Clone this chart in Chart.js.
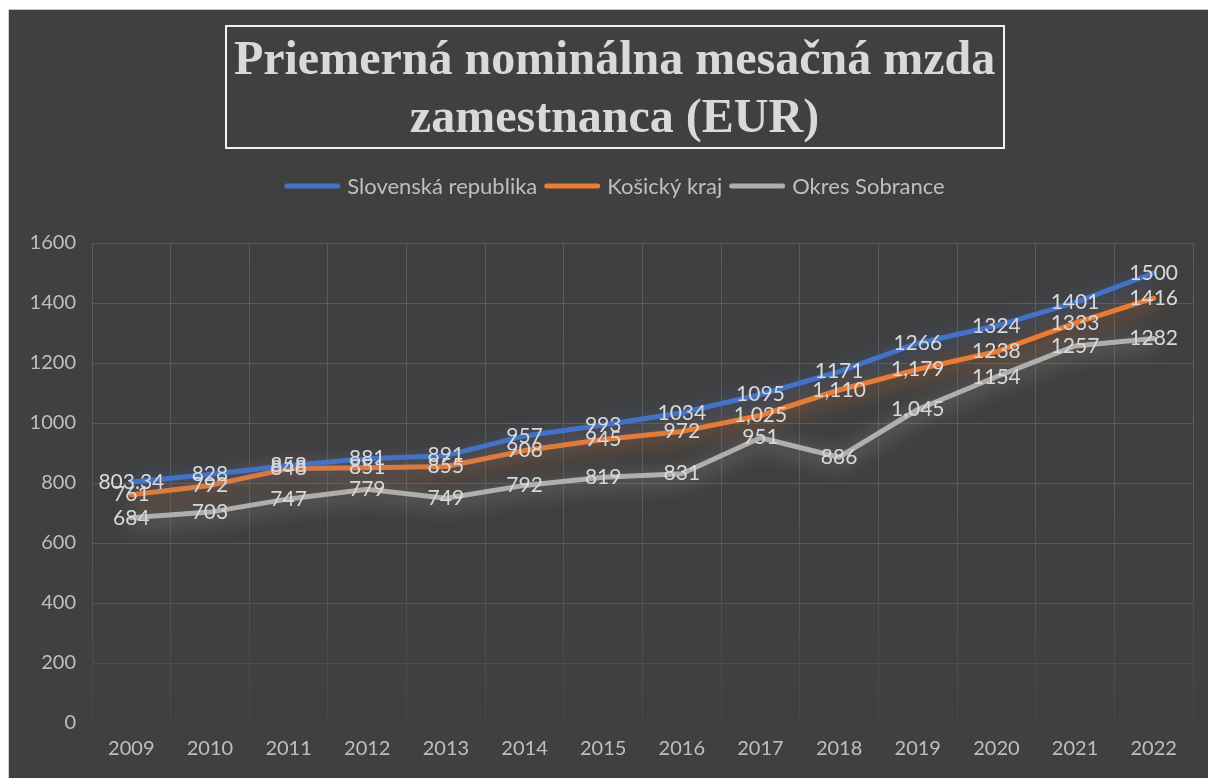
<!DOCTYPE html>
<html lang="sk">
<head>
    <meta charset="UTF-8">
    <title>Priemerná nominálna mesačná mzda zamestnanca (EUR)</title>
    <script src="https://cdn.jsdelivr.net/npm/chart.js"></script>
    <style>
        body { margin: 0; background: #ffffff; }
        #wrap {
            position: absolute;
            left: 8px; top: 9px;
            width: 1199px; height: 768px;
            background: #404040;
            border-top: 1px solid #c4c4c4;
            border-left: 1px solid #d0d0d0;
        }
        canvas { display: block; }
    </style>
</head>
<body>
    <div id="wrap"><canvas id="mzdaChart" width="1199" height="768"></canvas></div>

    <script>
        // data
        const years = ['2009', '2010', '2011', '2012', '2013', '2014', '2015', '2016', '2017', '2018', '2019', '2020', '2021', '2022'];
        const slovensko = [803.34, 828, 858, 881, 891, 957, 993, 1034, 1095, 1171, 1266, 1324, 1401, 1500];
        const kosice = [761, 792, 848, 851, 855, 908, 945, 972, 1025, 1110, 1179, 1238, 1333, 1416];
        const sobrance = [684, 703, 747, 779, 749, 792, 819, 831, 951, 886, 1045, 1154, 1257, 1282];
        // indexes whose data label is shown with a thousands separator
        const slovenskoComma = [];
        const kosiceComma = [8, 9, 10];
        const sobranceComma = [10];
        const yTicks = [0, 200, 400, 600, 800, 1000, 1200, 1400, 1600];
        const titleLines = ['Priemerná nominálna mesačná mzda', 'zamestnanca (EUR)'];

        const textGray = '#d9d9d9';
        const tickGray = '#bfbfbf';
        const font = 'Lato, "Open Sans", sans-serif';

        function rgba(hex, a) {
            let n = parseInt(hex.slice(1), 16);
            return `rgba(${n >> 16}, ${(n >> 8) & 255}, ${n & 255}, ${a})`;
        }

        // soft glow under each line, like the Excel effect
        const glowPlugin = {
            id: 'glow',
            beforeDatasetDraw(chart, args) {
                let ds = chart.data.datasets[args.index];
                chart.ctx.save();
                chart.ctx.shadowColor = rgba(ds.borderColor, 0.7);
                chart.ctx.shadowBlur = 20;
                chart.ctx.shadowOffsetY = 4;
            },
            afterDatasetDraw(chart) {
                chart.ctx.restore();
            }
        };

        // value labels centered on the points
        const labelPlugin = {
            id: 'valueLabels',
            afterDatasetsDraw(chart) {
                let ctx = chart.ctx;
                ctx.save();
                ctx.font = '21px ' + font;
                ctx.fillStyle = textGray;
                ctx.textAlign = 'center';
                ctx.textBaseline = 'middle';
                chart.data.datasets.forEach((ds, di) => {
                    let meta = chart.getDatasetMeta(di);
                    meta.data.forEach((pt, i) => {
                        let v = ds.data[i];
                        let txt = ds.commaIdx.includes(i) ? v.toLocaleString('en-US') : String(v);
                        ctx.fillText(txt, pt.x, pt.y);
                    });
                });
                ctx.restore();
            }
        };

        // boxed title and line-style legend
        const headerPlugin = {
            id: 'header',
            afterDraw(chart) {
                let ctx = chart.ctx;
                let cx = 605.5;
                ctx.save();
                ctx.strokeStyle = '#f2f2f2';
                ctx.lineWidth = 2;
                ctx.strokeRect(217, 16, 778, 122);
                ctx.fillStyle = textGray;
                ctx.textAlign = 'center';
                ctx.textBaseline = 'alphabetic';
                ctx.font = 'bold 48px "Liberation Serif", "DejaVu Serif", serif';
                ctx.fillText(titleLines[0], cx, 64);
                ctx.fillText(titleLines[1], cx, 122);

                // legend
                ctx.font = '22px ' + font;
                ctx.textAlign = 'left';
                ctx.textBaseline = 'middle';
                let lineW = 56, gap = 7;
                let items = chart.data.datasets.map(ds => ({ label: ds.label, color: ds.borderColor, w: ctx.measureText(ds.label).width }));
                let total = items.reduce((s, it) => s + lineW + gap + it.w, 0) + gap * (items.length - 1);
                let x = cx - total / 2, y = 176;
                items.forEach(it => {
                    ctx.fillStyle = it.color;
                    ctx.beginPath();
                    ctx.roundRect(x, y - 2.5, lineW, 5, 2.5);
                    ctx.fill();
                    x += lineW + gap;
                    ctx.fillStyle = tickGray;
                    ctx.fillText(it.label, x, y + 1);
                    x += it.w + gap;
                });
                ctx.restore();
            }
        };

        function gridGradient(context) {
            let chart = context.chart;
            let area = chart.chartArea;
            if (!area) return '#595959';
            let g = chart.ctx.createLinearGradient(0, area.top, 0, area.bottom);
            g.addColorStop(0, '#5c5c5c');
            g.addColorStop(0.55, '#595959');
            g.addColorStop(1, '#474747');
            return g;
        }

        const ctx = document.getElementById('mzdaChart').getContext('2d');
        new Chart(ctx, {
            type: 'line',
            data: {
                labels: years,
                datasets: [
                    { label: 'Slovenská republika', data: slovensko, commaIdx: slovenskoComma, borderColor: '#4472c4' },
                    { label: 'Košický kraj', data: kosice, commaIdx: kosiceComma, borderColor: '#ed7d31' },
                    { label: 'Okres Sobrance', data: sobrance, commaIdx: sobranceComma, borderColor: '#afafaf' }
                ].map(d => Object.assign(d, {
                    borderWidth: 5,
                    pointRadius: 0,
                    tension: 0,
                    borderCapStyle: 'round',
                    borderJoinStyle: 'round',
                    fill: false
                }))
            },
            options: {
                responsive: false,
                animation: false,
                layout: { padding: { top: 233, right: 15, left: 0, bottom: 0 } },
                plugins: {
                    legend: { display: false },
                    title: { display: false },
                    tooltip: { enabled: false }
                },
                scales: {
                    x: {
                        offset: true,
                        grid: { offset: true, color: gridGradient, lineWidth: 1, drawTicks: false },
                        border: { display: false },
                        ticks: { color: tickGray, font: { family: font, size: 20 }, padding: 14, maxRotation: 0 },
                        afterFit(scale) { scale.height = 55; }
                    },
                    y: {
                        min: 0,
                        max: 1600,
                        afterBuildTicks(scale) { scale.ticks = yTicks.map(v => ({ value: v })); },
                        grid: {
                            drawTicks: false,
                            color(c) {
                                let v = c.tick ? c.tick.value : 0;
                                if (v >= 600) return '#5a5a5a';
                                if (v === 400) return '#545454';
                                if (v === 200) return '#4d4d4d';
                                return '#454545';
                            }
                        },
                        border: { display: false },
                        ticks: {
                            color: tickGray,
                            font: { family: font, size: 20 },
                            padding: 16,
                            callback: v => String(v)
                        },
                        afterFit(scale) { scale.width = 83; }
                    }
                }
            },
            plugins: [glowPlugin, labelPlugin, headerPlugin]
        });
    </script>
</body>
</html>
